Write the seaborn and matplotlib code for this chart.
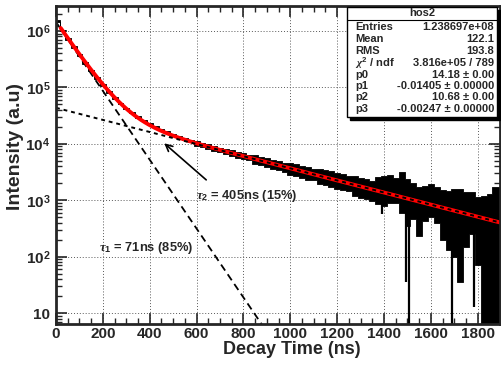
import numpy as np
import pandas as pd
import seaborn as sns
import matplotlib.pyplot as plt
from matplotlib.patches import Rectangle

# histogram of decay times (envelope of the noisy band)
data_t = np.r_[0, 8, np.arange(25, 1901, 25)]
data_hi = [1.25e6, 1.55e6, 1.05e6, 7.5e5, 5.35e5, 3.85e5, 2.8e5, 2.05e5, 1.51e5, 1.13e5,
           8.6e4, 6.7e4, 5.3e4, 4.35e4, 3.65e4, 3.1e4, 2.65e4, 2.35e4, 2.07e4, 1.86e4,
           1.68e4, 1.52e4, 1.38e4, 1.26e4, 1.16e4, 1.12e4, 1.05e4, 9.9e3, 9.2e3, 8.6e3,
           8.2e3, 7.7e3, 7.3e3, 6.8e3, 6.3e3, 6.3e3, 5.8e3, 5.6e3, 5.2e3, 4.9e3,
           4.6e3, 4.6e3, 4.3e3, 4.1e3, 3.9e3, 3.6e3, 3.65e3, 3.4e3, 3.3e3, 3.0e3,
           2.9e3, 2.7e3, 2.65e3, 2.45e3, 2.35e3, 2.2e3, 2.6e3, 2.7e3, 2.75e3, 2.5e3,
           3.2e3, 2.4e3, 2.0e3, 1.7e3, 1.8e3, 1.9e3, 1.75e3, 1.5e3, 1.45e3, 1.55e3,
           1.55e3, 1.4e3, 1.4e3, 1.15e3, 1.2e3, 1.3e3, 1.7e3, 1.75e3]
data_lo = [1.2e6, 1.45e6, 9.8e5, 7.0e5, 5.0e5, 3.6e5, 2.62e5, 1.92e5, 1.42e5, 1.06e5,
           8.1e4, 6.3e4, 5.0e4, 4.15e4, 3.45e4, 2.9e4, 2.5e4, 2.15e4, 1.92e4, 1.72e4,
           1.54e4, 1.4e4, 1.28e4, 1.17e4, 1.08e4, 9.3e3, 8.7e3, 8.1e3, 7.6e3, 7.1e3,
           6.5e3, 6.1e3, 5.7e3, 5.4e3, 5.1e3, 4.4e3, 4.2e3, 3.9e3, 3.6e3, 3.5e3,
           3.2e3, 2.85e3, 2.7e3, 2.5e3, 2.3e3, 2.25e3, 1.95e3, 1.85e3, 1.7e3, 1.6e3,
           1.5e3, 1.45e3, 1.2e3, 1.1e3, 1.05e3, 950, 850, 800, 900, 900,
           600, 350, 460, 230, 430, 500, 400, 200, 130, 100,
           35, 150, 250, 70, 1, 1, 1, 1]
# single bins that dip far below the band
spike_t = [1390, 1495, 1505, 1690, 1718, 1782]
spike_lo = [560, 35, 1, 1, 35, 13]
spike_hi = [1500, 1500, 1500, 1200, 1100, 1000]

# fit parameters from the stats box
fit_par = [14.18, -0.01405, 10.68, -0.00247]
stat_names = ["Entries", "Mean", "RMS", r"$\chi^{2}$ / ndf", "p0", "p1", "p2", "p3"]
stat_vals = ["1.238697e+08", "122.1", "193.8", "3.816e+05 / 789",
             "14.18 \u00b1 0.00", "-0.01405 \u00b1 0.00000",
             "10.68 \u00b1 0.00", "-0.00247 \u00b1 0.00000"]

sns.set_style("ticks")
plt.rcParams["font.family"] = ["Liberation Sans", "DejaVu Sans"]
plt.rcParams["font.weight"] = "bold"
plt.rcParams["mathtext.fontset"] = "custom"
plt.rcParams["mathtext.rm"] = "Liberation Sans:bold"
plt.rcParams["mathtext.bf"] = "Liberation Sans:bold"
plt.rcParams["mathtext.it"] = "Liberation Serif:italic"

fig = plt.figure(figsize=(5.02, 3.71), dpi=100)
ax = fig.add_axes([56 / 502, 1 - 324 / 371, 444 / 502, 318 / 371])
ax.set_yscale("log")

ax.fill_between(data_t, data_lo, data_hi, step="mid", color="black", lw=0.6, zorder=2)
ax.vlines(spike_t, spike_lo, spike_hi, color="black", lw=1.6, zorder=2)

t_fit = np.linspace(20, 1895, 600)
fast = np.exp(fit_par[0] + fit_par[1] * t_fit)
slow = np.exp(fit_par[2] + fit_par[3] * t_fit)
t0 = np.linspace(0, 1000, 300)
fit_df = pd.DataFrame({"t": t_fit, "fit": fast + slow})
fast_df = pd.DataFrame({"t": t0, "y": np.exp(fit_par[0] + fit_par[1] * t0)})
t1 = np.linspace(0, 1895, 400)
slow_df = pd.DataFrame({"t": t1, "y": np.exp(fit_par[2] + fit_par[3] * t1)})

sns.lineplot(data=fast_df, x="t", y="y", ax=ax, color="black", lw=1.3,
             zorder=3).lines[-1].set_dashes((4, 2.5))
sns.lineplot(data=fit_df, x="t", y="fit", ax=ax, color="red", lw=2.8, zorder=4)
sns.lineplot(data=slow_df, x="t", y="y", ax=ax, color="black", lw=1.4,
             zorder=5).lines[-1].set_dashes((2, 2))

ax.set_xlim(0, 1895)
ax.set_ylim(6.4, 2.77e6)
ax.set_xticks(np.arange(0, 1801, 200))
ax.set_xticks(np.arange(0, 1895, 50), minor=True)
ax.set_yticks([1e1, 1e2, 1e3, 1e4, 1e5, 1e6],
              ["10", r"$10^{2}$", r"$10^{3}$", r"$10^{4}$", r"$10^{5}$", r"$10^{6}$"])
ax.set_yticks([m * 10.0 ** e for e in range(0, 7) for m in range(2, 10)
               if 6.4 < m * 10.0 ** e < 2.77e6], minor=True)
ax.yaxis.set_minor_formatter(plt.NullFormatter())
ax.tick_params(which="both", direction="in", top=True, right=True, labelsize=11)
ax.tick_params(axis="x", pad=2)
ax.tick_params(axis="y", pad=4)
ax.tick_params(which="major", length=8, width=1.2)
ax.tick_params(which="minor", length=4, width=1.0)
ax.grid(True, which="major", color="0.35", lw=0.7, ls=(0, (1, 2)))
ax.set_axisbelow(True)
for s in ax.spines.values():
    s.set_linewidth(2)
    s.set_zorder(6)

ax.set_xlabel("Decay Time (ns)", fontsize=13, fontweight="bold")
ax.set_ylabel("Intensity (a.u)", fontsize=14, fontweight="bold")
ax.xaxis.set_label_coords(0.53, -0.052)
ax.yaxis.set_label_coords(-0.072, 0.557)

ax.annotate("", xy=(453, 1.1e4), xytext=(650, 2130),
            arrowprops=dict(arrowstyle="->", lw=1.2, color="black", mutation_scale=12),
            zorder=6)
ax.text(598, 1200, r"$\tau_{2}$ = 405ns (15%)", fontsize=9.3, fontweight="bold",
        va="center", ha="left", zorder=6)
ax.text(184, 141, r"$\tau_{1}$ = 71ns (85%)", fontsize=9.3, fontweight="bold",
        va="center", ha="left", zorder=6)

# stats box
W, H = 502, 371
bx0, bx1, by0, by1 = 347, 497, 7, 117
fig.patches.append(Rectangle(((bx0 + 3) / W, 1 - (by1 + 3) / H), (bx1 - bx0) / W,
                             (by1 - by0) / H, transform=fig.transFigure,
                             facecolor="black", edgecolor="black", zorder=10))
fig.patches.append(Rectangle((bx0 / W, 1 - by1 / H), (bx1 - bx0) / W, (by1 - by0) / H,
                             transform=fig.transFigure, facecolor="white",
                             edgecolor="black", lw=1.0, zorder=11))
fig.lines.append(plt.Line2D([bx0 / W, bx1 / W], [1 - 20 / H, 1 - 20 / H],
                            transform=fig.transFigure, color="black", lw=0.8, zorder=12))
fig.text((bx0 + bx1) / 2 / W, 1 - 13.5 / H, "hos2", ha="center", va="center",
         fontsize=8, fontweight="bold", zorder=12)
rows_y = [26.7, 39.3, 50.5, 63, 74.5, 86, 97.5, 109]
for name, val, yy in zip(stat_names, stat_vals, rows_y):
    fig.text(355 / W, 1 - yy / H, name, ha="left", va="center", fontsize=8,
             fontweight="bold", zorder=12)
    fig.text(494 / W, 1 - yy / H, val, ha="right", va="center", fontsize=8,
             fontweight="bold", zorder=12)

fig.savefig("out.png", dpi=100)
